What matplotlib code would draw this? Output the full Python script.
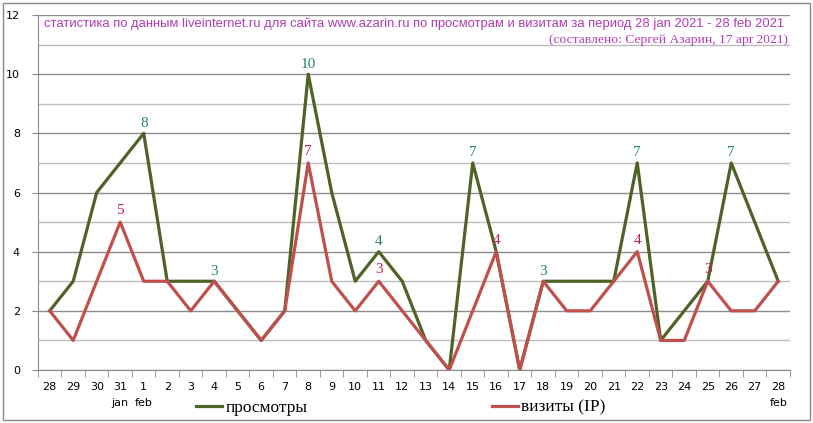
import numpy as np
import matplotlib.pyplot as plt
from matplotlib.patches import Rectangle

# дни периода 28 jan - 28 feb 2021
dni = ['28', '29', '30', '31'] + [str(d) for d in range(1, 29)]
prosmotry = [2, 3, 6, 7, 8, 3, 3, 3, 2, 1, 2, 10, 6, 3, 4, 3, 1, 0, 7, 4, 0,
             3, 3, 3, 3, 7, 1, 2, 3, 7, 5, 3]
vizity = [2, 1, 3, 5, 3, 3, 2, 3, 2, 1, 2, 7, 3, 2, 3, 2, 1, 0, 2, 4, 0,
          3, 2, 2, 3, 4, 1, 1, 3, 2, 2, 3]
# подписи значений (индекс точки)
metki_prosm = [4, 7, 11, 14, 18, 21, 25, 29]
metki_viz = [3, 11, 14, 19, 25, 28]

zel = '#4F6228'
kras = '#C0504D'

fig = plt.figure(figsize=(8.13, 4.23), dpi=100)
ax = fig.add_axes([0.0467, 0.1253, 0.925, 0.8392])
x = np.arange(len(dni))

ax.plot(x, prosmotry, color=zel, lw=2.3, zorder=3, label='просмотры')
ax.plot(x, vizity, color=kras, lw=2.3, zorder=4, label='визиты (IP)')

for i in metki_prosm:
    ax.annotate(str(prosmotry[i]), (x[i], prosmotry[i]), xytext=(0, 2.5),
                textcoords='offset points', ha='center', va='bottom',
                fontsize=11, family='Liberation Serif', color='#22875A')
for i in metki_viz:
    ax.annotate(str(vizity[i]), (x[i], vizity[i]), xytext=(0, 3.5),
                textcoords='offset points', ha='center', va='bottom',
                fontsize=11, family='Liberation Serif', color='#C0204A')

ax.set_xlim(-0.5, len(dni) - 0.5)
ax.set_ylim(0, 12)
ax.set_yticks(range(0, 13, 2))
ax.set_yticks(range(1, 13, 2), minor=True)
ax.grid(axis='y', which='major', color='#8C8C8C', lw=1)
ax.grid(axis='y', which='minor', color='#BDBDBD', lw=1)
ax.set_axisbelow(True)
ax.tick_params(axis='y', which='major', length=4, color='#8C8C8C', labelsize=8, pad=9)
ax.tick_params(axis='y', which='minor', length=0)

ax.set_xticks(x)
ax.set_xticklabels(dni)
ax.set_xticks(np.arange(-0.5, len(dni), 1), minor=True)
ax.tick_params(axis='x', which='major', length=0, labelsize=8, pad=9)
ax.tick_params(axis='x', which='minor', length=5, color='#8C8C8C')

for s in ['top', 'right']:
    ax.spines[s].set_visible(False)
for s in ['left', 'bottom']:
    ax.spines[s].set_color('#8C8C8C')

tr = ax.get_xaxis_transform()
ax.text(3, -0.078, 'jan', transform=tr, ha='center', va='top', fontsize=8)
ax.text(4, -0.078, 'feb', transform=tr, ha='center', va='top', fontsize=8)
ax.text(31, -0.078, 'feb', transform=tr, ha='center', va='top', fontsize=8)

# заголовок
ax.text(0.5, 0.975, 'статистика по данным liveinternet.ru для сайта www.azarin.ru '
        'по просмотрам и визитам за период 28 jan 2021 - 28 feb 2021',
        transform=ax.transAxes, ha='center', va='center', fontsize=9.4,
        family='Liberation Sans', color='#B03CB4')
ax.text(0.997, 0.93, '(составлено: Сергей Азарин, 17 apr 2021)',
        transform=ax.transAxes, ha='right', va='center', fontsize=9.7,
        family='Liberation Serif', color='#B03CB4')

leg = fig.legend(loc='center', bbox_to_anchor=(0.493, 0.036), ncol=2, frameon=False,
                 prop={'family': 'Liberation Serif', 'size': 12.5},
                 handlelength=1.5, handletextpad=0.2, columnspacing=10.6)

fig.patches.append(Rectangle((0.0037, 0.007), 0.9926, 0.986, transform=fig.transFigure,
                             fill=False, edgecolor='#888888', lw=1))

fig.savefig('out.png', dpi=100)
